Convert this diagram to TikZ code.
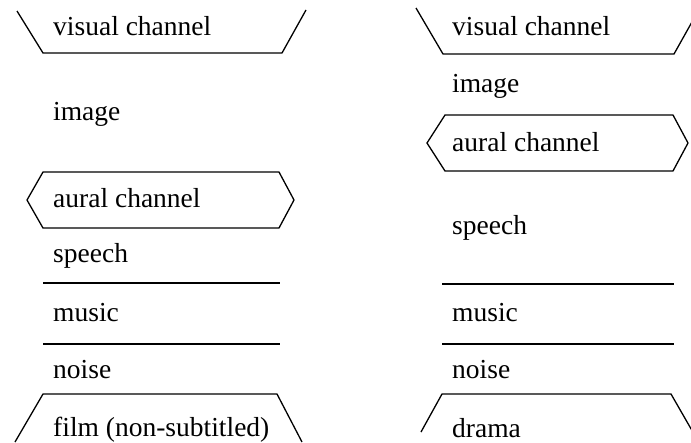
\documentclass[tikz,border=0pt]{standalone}
\usepackage{fontspec}
\setmainfont{Liberation Serif}
\begin{document}
\begin{tikzpicture}[x=1pt,y=-1pt,
  lbl/.style={anchor=base west,inner sep=0pt,font=\fontsize{27.5}{30}\selectfont},
  rule/.style={line width=1.3pt,line join=miter,line cap=butt}]
\useasboundingbox (0,0) rectangle (691,442);
\clip (0,0) rectangle (691,442);
% ---------- left column ----------
\node[lbl] (lvis)   at (53,35)  {visual channel};
\node[lbl] (limg)   at (53,120) {image};
\node[lbl] (laur)   at (53,207) {aural channel};
\node[lbl] (lsp)    at (53,262) {speech};
\node[lbl] (lmus)   at (53,321) {music};
\node[lbl] (lnoi)   at (53,378) {noise};
\node[lbl] (lfilm)  at (53,436) {film (non-subtitled)};
\draw[rule] (17,11) -- (43,53) -- (282,53) -- (306,10);
\draw[rule] (43,228) -- (27,200) -- (43,172) -- (279,172) -- (294,200) -- (279,228) -- cycle;
\draw[rule] (43,283) -- (280,283);
\draw[rule] (43,344) -- (280,344);
\draw[rule] (15,442) -- (43,394) -- (277,394) -- (302,442);
% ---------- right column ----------
\node[lbl] (rvis)   at (452,35)  {visual channel};
\node[lbl] (rimg)   at (452,92)  {image};
\node[lbl] (raur)   at (452,151) {aural channel};
\node[lbl] (rsp)    at (452,234) {speech};
\node[lbl] (rmus)   at (452,321) {music};
\node[lbl] (rnoi)   at (452,378) {noise};
\node[lbl] (rdram)  at (452,437) {drama};
\draw[rule] (416,8) -- (443,54) -- (674,54) -- (697,13);
\draw[rule] (445,171) -- (427,143) -- (445,115) -- (673,115) -- (688,143) -- (673,171) -- cycle;
\draw[rule] (442,284) -- (674,284);
\draw[rule] (442,344) -- (674,344);
\draw[rule] (421,432) -- (442,394) -- (671,394) -- (694,434);
\end{tikzpicture}
\end{document}
